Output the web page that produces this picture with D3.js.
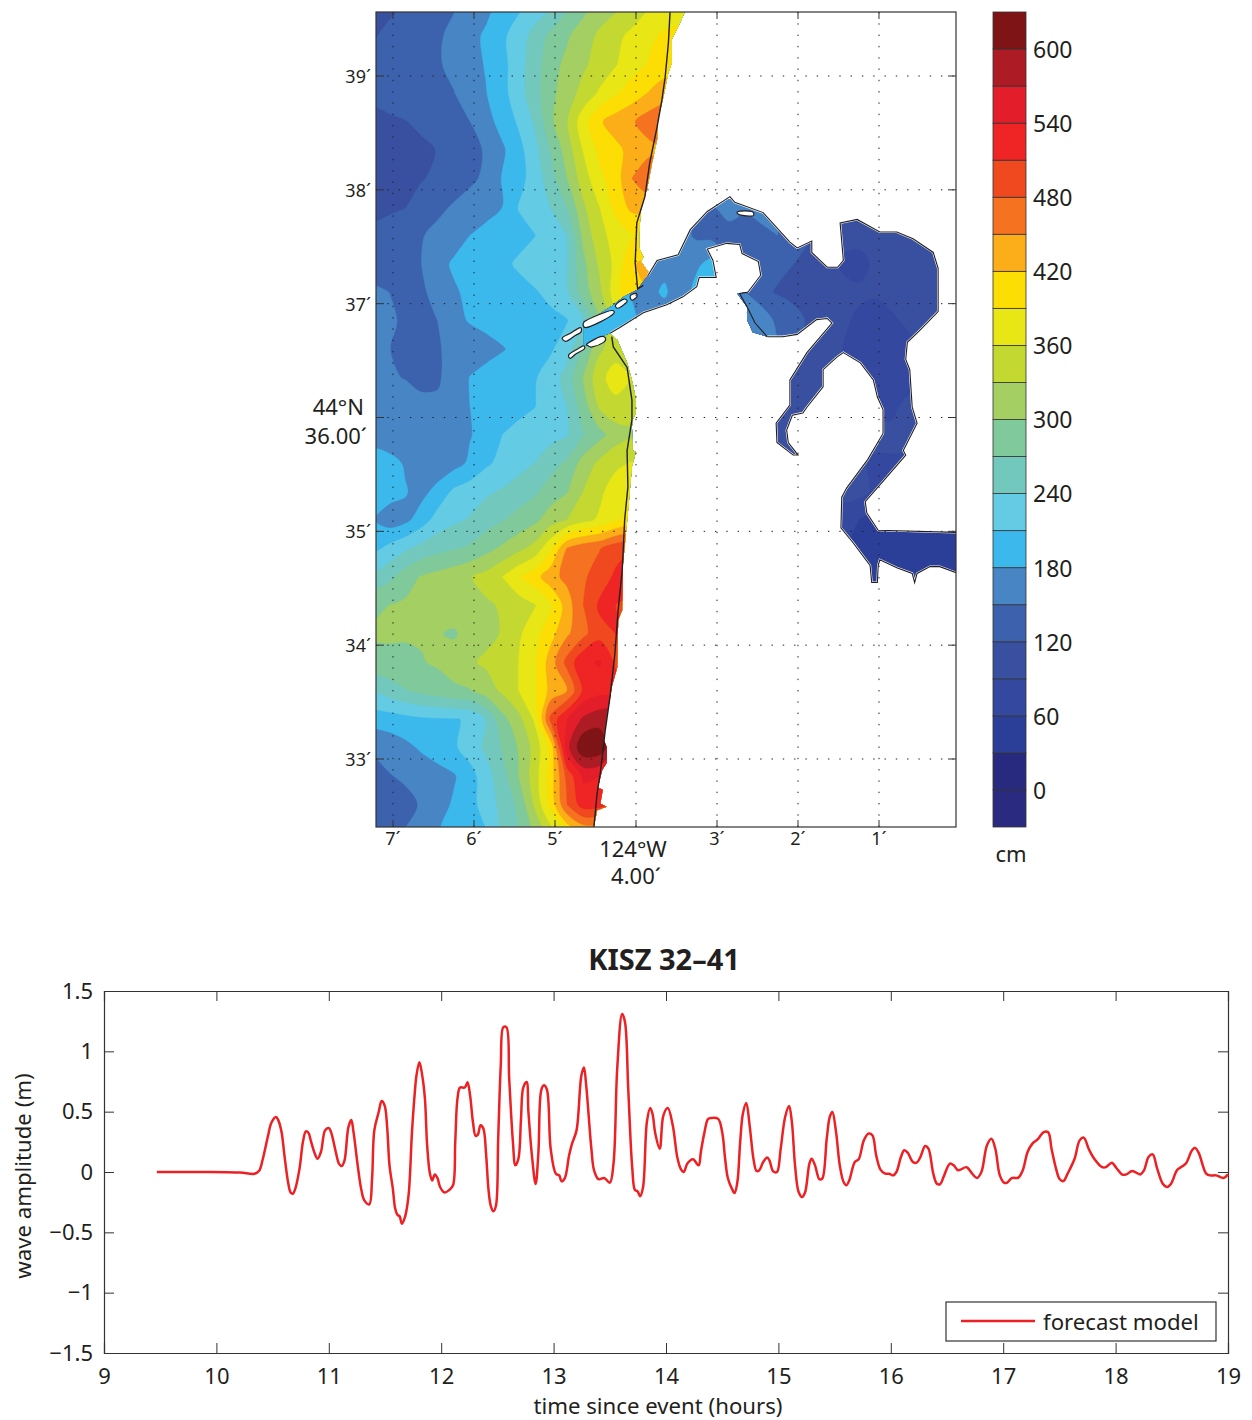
<!DOCTYPE html>
<html>
<head>
<meta charset="utf-8">
<style>
body { margin: 0; background: #fff; }
text { font-family: "Noto Sans", "Open Sans", sans-serif; fill: #231f20; }
</style>
<script src="https://cdnjs.cloudflare.com/ajax/libs/d3/7.8.5/d3.min.js"></script>
</head>
<body>
<div id="chart"></div>
<script>
// colour classes, 30 cm wide, lowest first
var bandThresholds = [-30,0,30,60,90,120,150,180,210,240,270,300,330,360,390,420,450,480,510,540,570,600];
var bandColors = ["#292a80","#272a7e","#2c3f98","#34489f","#38509f","#3c62ad","#4785c5","#3cb9ec","#64cbe5","#72c8bd","#80c99a",
    "#a4cf62","#c3d932","#e8e614","#fcde05","#fbae17","#f47220","#f1491f","#ef2425","#e31e2a","#ad1c24","#7f1416"];
var colorbarTicks = [0,60,120,180,240,300,360,420,480,540,600];
var lonTicks = [7,6,5,4,3,2,1];
var latTicks = [39,38,37,36,35,34,33];

// amplitude in cm. ocean: from 7.25' going east, 0.2' apart; from 39.6' going south, 0.25' apart
var oceanLon0 = 7.25, oceanLat0 = 39.6, gridDLon = 0.2, gridDLat = 0.25;
var oceanRows = [
[112,116,122,132,142,148,158,172,190,205,225,240,266,290,316,325,340,360,370,375,375],
[118,125,132,140,146,157,170,185,204,225,250,278,296,318,335,352,368,383,395,400,400],
[125,130,135,140,147,157,170,182,200,228,256,288,308,325,342,358,378,392,405,405,405],
[125,130,135,140,145,149,163,179,200,227,257,292,316,340,364,386,404,421,435,435,435],
[112,116,119,126,133,142,150,169,191,214,244,294,328,378,416,434,446,465,475,475,475],
[105,107,110,114,121,130,141,153,175,200,230,272,314,362,397,412,430,440,450,450,450],
[103,108,112,118,126,135,144,156,182,200,222,258,300,345,383,405,450,475,475,475,475],
[112,115,119,132,143,153,163,173,180,211,225,241,270,325,360,400,428,430,425,425,425],
[125,132,140,148,158,170,180,186,195,203,209,225,240,308,350,372,388,395,395,395,395],
[125,132,140,150,172,183,190,198,205,213,225,232,238,292,335,368,418,425,425,425,425],
[158,150,142,146,158,177,185,190,197,203,207,218,236,285,322,378,418,420,420,420,420],
[160,155,145,143,150,172,182,188,192,195,198,202,208,240,300,350,390,400,400,400,400],
[155,151,140,142,148,156,163,170,178,188,197,206,228,272,325,345,350,350,350,350,350],
[160,153,149,142,147,160,181,190,196,200,207,226,250,302,350,375,360,350,350,350,350],
[172,168,163,158,154,158,180,190,196,202,209,225,240,285,335,350,340,330,330,330,330],
[160,161,163,165,168,173,178,192,210,218,225,230,237,268,290,315,325,325,325,325,325],
[200,190,177,166,158,168,185,205,218,228,240,258,275,312,336,352,362,362,362,362,362],
[200,192,182,170,190,215,225,235,243,255,265,285,298,330,352,378,388,388,388,388,388],
[182,165,172,195,222,234,243,256,268,280,293,315,330,350,365,385,400,400,400,400,400],
[200,218,235,250,260,267,275,290,305,322,340,385,452,470,478,500,510,510,510,510,510],
[245,262,285,302,310,318,328,340,360,385,408,440,458,475,495,515,525,525,525,525,525],
[292,300,305,308,312,316,320,326,333,345,358,385,435,480,515,510,505,505,505,505,505],
[305,305,303,303,302,296,312,322,332,355,378,410,445,472,500,510,510,510,510,510,510],
[285,290,293,298,304,315,326,335,348,360,385,435,490,535,542,505,500,500,500,500,500],
[240,255,268,277,285,293,298,315,335,360,385,430,450,515,530,525,520,520,520,520,520],
[190,195,200,205,207,208,213,242,290,320,365,490,540,575,590,595,580,580,580,580,580],
[155,162,172,184,195,205,225,245,272,302,340,400,560,625,620,570,560,560,560,560,560],
[135,148,155,161,168,177,197,228,258,300,345,405,490,545,540,515,515,515,515,515,515],
[125,130,140,153,170,183,200,222,250,275,335,400,480,525,520,500,500,500,500,500,500],
[130,140,152,165,178,190,200,208,245,270,305,345,390,420,420,420,420,420,420,420,420]
];
// channel and bay: from 4.65' going east, from 38.1' going south, same spacing
var bayLon0 = 4.65, bayLat0 = 38.1;
var bayRows = [
[190,190,190,185,170,160,155,155,155,165,160,150,140,130,120,110,100,100,100,100,100,100,100,100,100],
[190,190,190,185,170,160,155,155,150,165,155,165,150,130,120,110,100,100,100,100,100,100,100,100,100],
[190,190,190,185,170,160,160,145,140,135,135,140,150,130,122,110,100,100,100,100,105,110,110,110,110],
[190,190,190,185,175,170,155,175,190,150,130,125,125,120,112,105,85,80,95,100,110,115,115,115,115],
[195,195,190,178,170,185,160,190,180,160,150,125,118,112,105,100,100,95,95,100,108,112,112,112,112],
[195,200,195,185,170,160,160,160,155,150,150,175,140,130,115,100,95,85,72,85,95,100,100,100,100],
[205,210,205,190,175,160,160,155,150,170,180,185,150,120,100,95,90,80,72,72,80,90,90,90,90],
[200,200,200,190,170,150,140,130,120,110,100,95,95,95,95,92,90,85,70,65,72,80,80,80,80],
[95,95,95,95,95,95,95,95,95,95,95,95,95,95,95,95,90,85,78,80,100,100,100,100,100],
[95,95,95,95,95,95,95,95,95,95,95,95,95,95,95,95,95,95,100,100,100,100,100,100,100],
[95,95,95,95,95,95,95,95,95,95,95,95,95,95,95,95,95,95,85,85,85,85,85,85,85],
[95,95,95,95,95,95,95,95,95,95,95,95,95,95,95,95,100,100,85,85,85,85,85,85,85],
[75,75,75,75,75,75,75,75,75,75,75,75,75,75,75,75,75,60,50,50,50,50,50,50,50],
[50,50,50,50,50,50,50,50,50,50,50,50,50,50,50,50,62,50,48,48,48,45,45,45,45],
[45,45,45,45,45,45,45,45,45,45,45,45,45,45,45,45,50,45,45,45,45,45,45,45,45],
[45,45,45,45,45,45,45,45,45,45,45,45,45,45,45,45,45,45,45,45,45,45,45,45,45]
];

// wet areas and shore lines as [lon minutes W, lat minutes N]
var oceanOutline = [[3.40,39.62],[3.40,39.56],[3.48,39.43],[3.56,39.32],[3.56,39.11],[3.60,39.03],[3.67,38.79],[3.73,38.61],[3.74,38.44],[3.80,38.24],[3.86,38.02],[3.94,37.82],[3.96,37.62],[3.96,37.49],[3.91,37.41],[3.94,37.37],[3.85,37.28],[3.83,37.16],[3.89,37.03],[4.14,36.81],[4.32,36.74],[4.23,36.68],[4.11,36.48],[4.04,36.30],[4.00,36.15],[4.00,36.04],[4.04,35.98],[4.05,35.92],[4.04,35.71],[4.00,35.70],[4.05,35.57],[4.10,35.16],[4.16,34.72],[4.17,34.31],[4.22,34.22],[4.23,33.81],[4.30,33.63],[4.33,33.49],[4.36,33.40],[4.40,33.17],[4.36,33.10],[4.36,32.97],[4.42,32.90],[4.47,32.75],[4.41,32.73],[4.44,32.61],[4.36,32.58],[4.48,32.55],[4.52,32.40],[4.52,32.33],[7.28,32.33],[7.28,39.62]];
var bayOutline = [[4.65,36.84],[4.47,36.90],[4.30,36.98],[4.15,37.06],[3.99,37.12],[3.85,37.25],[3.74,37.38],[3.48,37.43],[3.33,37.65],[3.12,37.81],[2.84,37.94],[2.78,37.89],[2.43,37.80],[2.10,37.54],[2.01,37.49],[1.83,37.55],[1.83,37.45],[1.64,37.32],[1.51,37.32],[1.44,37.38],[1.48,37.71],[1.27,37.74],[0.99,37.63],[0.78,37.63],[0.58,37.57],[0.33,37.45],[0.27,37.31],[0.27,36.93],[0.49,36.77],[0.65,36.66],[0.67,36.51],[0.62,36.42],[0.59,36.09],[0.53,35.95],[0.70,35.71],[0.67,35.67],[0.90,35.48],[1.17,35.26],[1.15,35.16],[1.01,35.01],[0.02,34.99],[0.02,34.63],[0.25,34.69],[0.37,34.69],[0.53,34.63],[0.56,34.55],[0.59,34.63],[0.78,34.68],[0.99,34.75],[1.01,34.70],[1.02,34.55],[1.09,34.55],[1.11,34.70],[1.32,34.90],[1.47,35.03],[1.46,35.30],[1.40,35.38],[1.14,35.63],[0.95,35.86],[0.95,36.07],[1.02,36.18],[1.07,36.33],[1.23,36.48],[1.44,36.57],[1.52,36.53],[1.69,36.42],[1.69,36.27],[1.89,36.09],[1.94,36.04],[2.07,36.02],[2.14,35.89],[2.12,35.78],[2.00,35.67],[2.06,35.67],[2.26,35.78],[2.27,35.95],[2.10,36.11],[2.10,36.33],[1.89,36.57],[1.58,36.83],[1.64,36.87],[1.77,36.86],[2.01,36.73],[2.19,36.71],[2.38,36.71],[2.56,36.75],[2.63,36.86],[2.63,36.97],[2.75,37.09],[2.62,37.10],[2.46,37.25],[2.49,37.37],[2.69,37.44],[2.72,37.52],[2.88,37.53],[3.12,37.48],[3.05,37.38],[3.01,37.23],[3.22,37.23],[3.25,37.15],[3.42,37.06],[3.62,36.99],[3.91,36.92],[4.20,36.79],[4.32,36.74],[4.44,36.71],[4.65,36.62]];
// the shore line runs inside the wet area at the south lobe
var lobeShore = [[2.38,36.71],[2.53,36.83],[2.62,36.96],[2.72,37.09],[2.62,37.10]];
var northCoast = [[3.58,39.56],[3.60,39.29],[3.64,38.99],[3.68,38.79],[3.74,38.55],[3.83,38.24],[3.89,37.94],[3.99,37.71],[4.01,37.36],[3.98,37.13],[3.91,37.16]];
var southCoast = [[4.30,36.71],[4.28,36.62],[4.11,36.44],[4.05,36.15],[4.05,35.98],[4.11,35.71],[4.10,35.39],[4.14,35.10],[4.17,34.66],[4.22,34.31],[4.26,33.93],[4.32,33.55],[4.38,33.25],[4.44,32.88],[4.48,32.70],[4.52,32.40]];
var islands = [
[[4.91,36.70],[4.81,36.74],[4.69,36.79],[4.68,36.75],[4.75,36.72],[4.86,36.67]],
[[4.64,36.84],[4.47,36.90],[4.30,36.94],[4.28,36.91],[4.44,36.84],[4.62,36.79]],
[[4.25,36.99],[4.15,37.04],[4.11,37.02],[4.17,36.98],[4.23,36.96]],
[[4.07,37.07],[4.00,37.09],[3.99,37.06],[4.05,37.03]],
[[4.83,36.55],[4.75,36.59],[4.65,36.63],[4.64,36.60],[4.74,36.56],[4.81,36.52]],
[[4.60,36.65],[4.44,36.71],[4.38,36.70],[4.40,36.66],[4.54,36.62],[4.59,36.63]],
[[2.74,37.81],[2.57,37.81],[2.56,37.77],[2.72,37.78]]
];

// forecast model time series
var seriesTime = [9.47,9.91,10.21,10.34,10.38,10.41,10.457,10.49,10.53,10.55,10.58,10.605,10.64,10.66,10.68,10.70,10.74,10.77,10.796,10.82,10.84,10.87,10.90,10.93,10.967,11.0,11.02,11.066,11.09,11.115,11.14,11.174,11.2,11.22,11.257,11.29,11.316,11.36,11.385,11.405,11.444,11.47,11.497,11.52,11.54,11.57,11.59,11.61,11.63,11.65,11.68,11.71,11.74,11.763,11.78,11.806,11.83,11.855,11.875,11.90,11.92,11.944,11.967,11.99,12.03,12.07,12.105,12.125,12.145,12.168,12.21,12.234,12.257,12.283,12.306,12.326,12.35,12.375,12.40,12.42,12.44,12.464,12.487,12.507,12.53,12.553,12.58,12.605,12.638,12.66,12.687,12.71,12.73,12.76,12.776,12.81,12.84,12.865,12.89,12.914,12.94,12.974,13.02,13.05,13.07,13.10,13.138,13.164,13.204,13.247,13.27,13.29,13.336,13.36,13.40,13.45,13.50,13.533,13.566,13.61,13.635,13.664,13.70,13.724,13.747,13.77,13.796,13.83,13.86,13.88,13.905,13.944,13.977,14.016,14.06,14.10,14.13,14.158,14.19,14.24,14.29,14.31,14.34,14.375,14.405,14.464,14.50,14.526,14.55,14.586,14.61,14.635,14.66,14.684,14.714,14.744,14.78,14.806,14.83,14.865,14.9,14.92,14.954,14.987,15.02,15.06,15.095,15.12,15.148,15.18,15.21,15.237,15.276,15.296,15.326,15.365,15.39,15.43,15.457,15.48,15.513,15.546,15.58,15.605,15.63,15.68,15.714,15.76,15.80,15.836,15.87,15.908,15.95,15.984,16.02,16.05,16.09,16.12,16.15,16.197,16.23,16.263,16.306,16.335,16.378,16.41,16.44,16.47,16.526,16.56,16.60,16.674,16.724,16.766,16.806,16.855,16.895,16.93,16.97,17.01,17.036,17.076,17.135,17.174,17.217,17.26,17.306,17.36,17.40,17.43,17.47,17.503,17.536,17.573,17.635,17.68,17.717,17.76,17.81,17.88,17.914,17.967,18.007,18.06,18.095,18.148,18.22,18.253,18.293,18.33,18.37,18.42,18.46,18.493,18.546,18.58,18.625,18.68,18.707,18.74,18.806,18.84,18.895,18.96,19.0];
var seriesAmp = [0,0,-0.005,-0.014,0.01,0.097,0.29,0.41,0.456,0.43,0.33,0.14,-0.097,-0.17,-0.18,-0.144,0.03,0.25,0.337,0.323,0.26,0.166,0.11,0.166,0.345,0.365,0.33,0.15,0.07,0.05,0.097,0.37,0.43,0.33,0.055,-0.15,-0.235,-0.268,-0.055,0.345,0.497,0.588,0.55,0.36,0.055,-0.14,-0.30,-0.354,-0.367,-0.428,-0.365,-0.19,0.33,0.635,0.80,0.91,0.807,0.61,0.22,-0.014,-0.07,-0.02,-0.05,-0.124,-0.17,-0.15,-0.11,0.25,0.61,0.70,0.70,0.743,0.635,0.41,0.30,0.31,0.387,0.36,0.138,-0.138,-0.276,-0.326,-0.28,0.276,0.884,1.20,1.20,0.773,0.25,0.055,0.11,0.44,0.70,0.746,0.497,0.11,-0.10,0.166,0.677,0.718,0.685,0.193,-0.014,-0.028,-0.077,-0.05,0.138,0.235,0.345,0.80,0.867,0.718,0.193,0.014,-0.06,-0.05,-0.088,0.07,0.856,1.31,1.243,0.69,0.03,-0.15,-0.16,-0.2,-0.124,0.414,0.53,0.483,0.318,0.193,0.47,0.53,0.387,0.124,0.028,0,0.07,0.105,0.055,0.166,0.318,0.44,0.448,0.44,0.33,0.11,-0.05,-0.138,-0.174,-0.083,0.25,0.483,0.572,0.387,0.097,0.008,0.014,0.083,0.12,0.097,0.005,0,0.19,0.456,0.547,0.414,0.055,-0.166,-0.207,-0.17,0.07,0.11,0.055,-0.06,-0.055,0.276,0.456,0.497,0.33,0.055,-0.083,-0.11,-0.07,0.083,0.105,0.262,0.318,0.304,0.138,0.02,-0.014,-0.014,-0.028,0,0.124,0.18,0.16,0.083,0.077,0.124,0.215,0.193,-0.014,-0.097,-0.10,-0.04,0.07,0.055,0.014,0.04,-0.014,-0.05,0,0.22,0.276,0.193,-0.028,-0.09,-0.088,-0.05,-0.047,0.014,0.166,0.235,0.27,0.33,0.33,0.193,0.028,-0.06,-0.075,-0.014,0.11,0.262,0.285,0.193,0.11,0.04,0.04,0.077,0.033,-0.022,-0.02,0.008,-0.02,0.014,0.124,0.146,0.028,-0.097,-0.124,-0.097,0.014,0.04,0.07,0.18,0.2,0.157,-0.014,-0.028,-0.028,-0.05,-0.02];
var xTicks = [9,10,11,12,13,14,15,16,17,18,19];
var yTicks = [-1.5,-1,-0.5,0,0.5,1,1.5];
var yTickLabels = ["\u22121.5","\u22121","\u22120.5","0","0.5","1","1.5"];

var svg = d3.select("#chart").append("svg").attr("width", 1252).attr("height", 1420);

var map = {left: 376, right: 956, top: 12, bottom: 827};
var lonScale = d3.scaleLinear().domain([7, 1]).range([393, 879]);
var latScale = d3.scaleLinear().domain([39, 33]).range([76, 759]);
var mapLine = d3.line().x(function(d) { return lonScale(d[0]); }).y(function(d) { return latScale(d[1]); });

var defs = svg.append("defs");
defs.append("clipPath").attr("id", "frameClip").append("rect")
    .attr("x", map.left).attr("y", map.top).attr("width", map.right - map.left).attr("height", map.bottom - map.top);
defs.append("clipPath").attr("id", "oceanClip").append("path").attr("d", mapLine(oceanOutline) + "Z");
defs.append("clipPath").attr("id", "bayClip").append("path").attr("d", mapLine(bayOutline) + "Z");

var mapLayer = svg.append("g").attr("clip-path", "url(#frameClip)");

function drawBands(rows, lon0, lat0, clipId) {
    var nx = rows[0].length, ny = rows.length;
    var contours = d3.contours().size([nx, ny]).thresholds(bandThresholds)(rows.flat());
    // contour coordinates: the value of cell i sits at i + 0.5
    var ringLine = d3.line()
        .x(function(d) { return lonScale(lon0 - (d[0] - 0.5) * gridDLon); })
        .y(function(d) { return latScale(lat0 - (d[1] - 0.5) * gridDLat); })
        .curve(d3.curveCatmullRomClosed.alpha(0.5));
    mapLayer.append("g").attr("clip-path", "url(#" + clipId + ")")
        .selectAll("path").data(contours).enter().append("path")
        .attr("d", function(c) {
            var s = "";
            c.coordinates.forEach(function(poly) {
                poly.forEach(function(ring) { s += ringLine(ring.slice(0, -1)); });
            });
            return s;
        })
        .attr("fill-rule", "evenodd")
        .attr("fill", function(d, i) { return bandColors[i]; })
        .attr("stroke", function(d, i) { return bandColors[i]; })
        .attr("stroke-width", 0.4);
}
drawBands(oceanRows, oceanLon0, oceanLat0, "oceanClip");
drawBands(bayRows, bayLon0, bayLat0, "bayClip");

// shore lines, white halo along the bay
var lobeStart = bayOutline.findIndex(function(d) { return d[0] == 2.38; });
var lobeEnd = bayOutline.findIndex(function(d) { return d[0] == 2.62 && d[1] == 37.10; });
var haloShores = [bayOutline.slice(5, lobeStart + 1), bayOutline.slice(lobeEnd, bayOutline.length - 2)];
mapLayer.selectAll(".halo").data(haloShores).enter().append("path")
    .attr("class", "halo").attr("d", mapLine).attr("fill", "none")
    .attr("stroke", "#fff").attr("stroke-width", 2.2);
mapLayer.selectAll(".shore").data(haloShores.concat([lobeShore])).enter().append("path")
    .attr("class", "shore").attr("d", mapLine).attr("fill", "none")
    .attr("stroke", "#231f20").attr("stroke-width", 1.1);
mapLayer.selectAll(".coast").data([northCoast, southCoast]).enter().append("path")
    .attr("class", "coast").attr("d", mapLine).attr("fill", "none")
    .attr("stroke", "#231f20").attr("stroke-width", 1.4);
var islandLine = d3.line().x(mapLine.x()).y(mapLine.y()).curve(d3.curveCardinalClosed);
mapLayer.selectAll(".island").data(islands).enter().append("path")
    .attr("class", "island").attr("d", islandLine)
    .attr("fill", "#fff").attr("stroke", "#231f20").attr("stroke-width", 1.2);

// dotted grid
var dots = "1.4,9.9";
svg.append("g").selectAll("line").data(lonTicks).enter().append("line")
    .attr("x1", function(d) { return lonScale(d); }).attr("x2", function(d) { return lonScale(d); })
    .attr("y1", map.bottom).attr("y2", map.top)
    .attr("stroke", "#231f20").attr("stroke-width", 1).attr("stroke-dasharray", dots);
svg.append("g").selectAll("line").data(latTicks).enter().append("line")
    .attr("y1", function(d) { return latScale(d); }).attr("y2", function(d) { return latScale(d); })
    .attr("x1", map.left).attr("x2", map.right)
    .attr("stroke", "#231f20").attr("stroke-width", 1).attr("stroke-dasharray", dots);

// map frame and ticks
var mapTicks = svg.append("g").attr("stroke", "#333").attr("stroke-width", 1).attr("fill", "none");
lonTicks.forEach(function(d) {
    mapTicks.append("path").attr("d", "M" + lonScale(d) + "," + map.bottom + "v-7M" + lonScale(d) + "," + map.top + "v7");
});
latTicks.forEach(function(d) {
    mapTicks.append("path").attr("d", "M" + map.left + "," + latScale(d) + "h8M" + map.right + "," + latScale(d) + "h-8");
});
svg.append("rect").attr("x", map.left).attr("y", map.top).attr("width", map.right - map.left).attr("height", map.bottom - map.top)
    .attr("fill", "none").attr("stroke", "#333").attr("stroke-width", 1.2);

svg.selectAll(".lonLabel").data(lonTicks.filter(function(d) { return d != 4; })).enter().append("text")
    .attr("class", "lonLabel")
    .attr("x", function(d) { return lonScale(d); }).attr("y", 845)
    .attr("text-anchor", "middle").style("font-size", "18px")
    .text(function(d) { return d + "\u00b4"; });
svg.selectAll(".latLabel").data(latTicks.filter(function(d) { return d != 36; })).enter().append("text")
    .attr("class", "latLabel")
    .attr("x", 371).attr("y", function(d) { return latScale(d) + 7; })
    .attr("text-anchor", "end").style("font-size", "18px")
    .text(function(d) { return d + "\u00b4"; });
function bigLabel(x, y, anchor, s) {
    svg.append("text").attr("x", x).attr("y", y).attr("text-anchor", anchor).style("font-size", "22px").text(s);
}
bigLabel(364, 415, "end", "44\u00b0N");
bigLabel(367, 444, "end", "36.00\u00b4");
bigLabel(633, 857, "middle", "124\u00b0W");
bigLabel(636, 884, "middle", "4.00\u00b4");

// colorbar
var barScale = d3.scaleLinear().domain([-30, 630]).range([827, 12]);
var bar = svg.append("g");
bar.selectAll("rect").data(bandThresholds).enter().append("rect")
    .attr("x", 993).attr("width", 33)
    .attr("y", function(d) { return barScale(d + 30); })
    .attr("height", function(d) { return barScale(d) - barScale(d + 30); })
    .attr("fill", function(d, i) { return bandColors[i]; })
    .attr("stroke", "#333").attr("stroke-width", 0.8);
var barAxis = svg.append("g").attr("transform", "translate(1026,1)")
    .call(d3.axisRight(barScale).tickValues(colorbarTicks).tickSize(0).tickPadding(7));
barAxis.select(".domain").remove();
barAxis.selectAll("text").style("font-size", "23px");
bigLabel(1011, 862, "middle", "cm");

// time series panel
var panel = {left: 104, right: 1228, top: 991, bottom: 1353};
var x = d3.scaleLinear().domain([9, 19]).range([panel.left, panel.right]);
var y = d3.scaleLinear().domain([-1.5, 1.5]).range([panel.bottom, panel.top]);

var xAxis = d3.axisBottom(x).tickValues(xTicks).tickFormat(d3.format("d")).tickSize(-10).tickPadding(15);
var yAxis = d3.axisLeft(y).tickValues(yTicks).tickFormat(function(d, i) { return yTickLabels[i]; }).tickSize(-10).tickPadding(11);
var gx = svg.append("g").attr("transform", "translate(0," + panel.bottom + ")").call(xAxis);
var gy = svg.append("g").attr("transform", "translate(" + panel.left + ",0)").call(yAxis);
var gxTop = svg.append("g").attr("transform", "translate(0," + panel.top + ")").call(d3.axisTop(x).tickValues(xTicks).tickFormat("").tickSize(-10));
var gyRight = svg.append("g").attr("transform", "translate(" + panel.right + ",0)").call(d3.axisRight(y).tickValues(yTicks).tickFormat("").tickSize(-10));
[gx, gy, gxTop, gyRight].forEach(function(g) {
    g.selectAll("line").attr("stroke", "#333").attr("stroke-width", 1);
    g.select(".domain").attr("stroke", "#333").attr("stroke-width", 1.2);
    g.selectAll("text").style("font-size", "22px").attr("fill", "#231f20");
});

svg.append("path")
    .attr("d", d3.line().x(function(d) { return x(d); }).y(function(d, i) { return y(seriesAmp[i]); }).curve(d3.curveCatmullRom.alpha(0.5))(seriesTime))
    .attr("fill", "none").attr("stroke", "#ed2024").attr("stroke-width", 2.5).attr("stroke-linejoin", "round");

svg.append("text").attr("x", 664).attr("y", 970).attr("text-anchor", "middle")
    .style("font-size", "29px").style("font-weight", "700").text("KISZ 32\u201341");
svg.append("text").attr("x", 658).attr("y", 1414).attr("text-anchor", "middle")
    .style("font-size", "22.2px").text("time since event (hours)");
svg.append("text").attr("transform", "translate(31,1176) rotate(-90)").attr("text-anchor", "middle")
    .style("font-size", "22.2px").text("wave amplitude (m)");

// legend
svg.append("rect").attr("x", 946).attr("y", 1302).attr("width", 270).attr("height", 39)
    .attr("fill", "#fff").attr("stroke", "#333").attr("stroke-width", 1.2);
svg.append("line").attr("x1", 961).attr("x2", 1035).attr("y1", 1321).attr("y2", 1321)
    .attr("stroke", "#ed2024").attr("stroke-width", 2.5);
svg.append("text").attr("x", 1043).attr("y", 1330).style("font-size", "22.2px").text("forecast model");
</script>
</body>
</html>
